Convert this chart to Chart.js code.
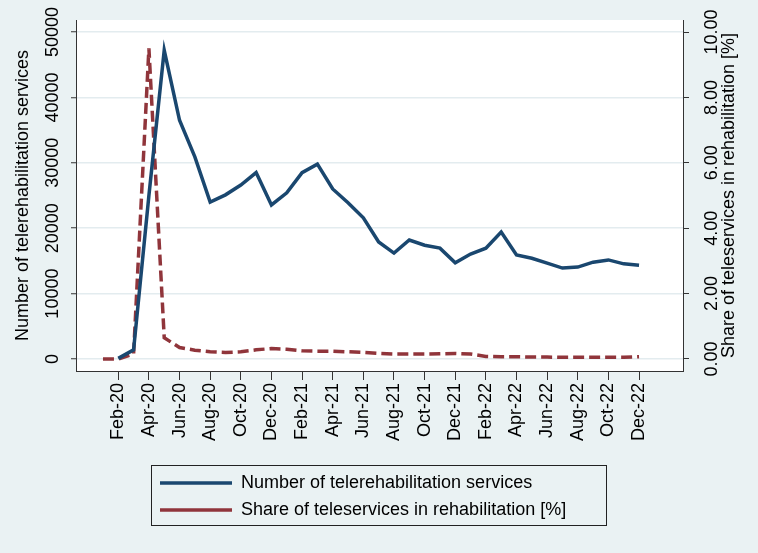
<!DOCTYPE html>
<html>
<head>
<meta charset="utf-8">
<script src="https://cdn.jsdelivr.net/npm/chart.js@4.4.1/dist/chart.umd.min.js"></script>
<style>
  html, body { margin: 0; padding: 0; background: #eaf2f3; }
  #wrap { width: 758px; height: 553px; }
</style>
</head>
<body>
<div id="wrap"><canvas id="teleChart" width="758" height="553"></canvas></div>
<script>
// months, Jan-20 .. Dec-22
const months = [
  'Jan-20', 'Feb-20', 'Mar-20', 'Apr-20', 'May-20', 'Jun-20', 'Jul-20', 'Aug-20', 'Sep-20', 'Oct-20', 'Nov-20', 'Dec-20',
  'Jan-21', 'Feb-21', 'Mar-21', 'Apr-21', 'May-21', 'Jun-21', 'Jul-21', 'Aug-21', 'Sep-21', 'Oct-21', 'Nov-21', 'Dec-21',
  'Jan-22', 'Feb-22', 'Mar-22', 'Apr-22', 'May-22', 'Jun-22', 'Jul-22', 'Aug-22', 'Sep-22', 'Oct-22', 'Nov-22', 'Dec-22'
];

// Number of telerehabilitation services
const services = [
  null, 100, 1400, 25000, 47200, 36500, 30900, 24000, 25100, 26600, 28500, 23550,
  25400, 28500, 29800, 26000, 23900, 21600, 17900, 16200, 18200, 17400, 16950, 14700,
  16050, 16950, 19400, 15900, 15400, 14650, 13900, 14050, 14800, 15150, 14550, 14350
];

// Share of teleservices in rehabilitation [%]
const share = [
  0, 0, 0.15, 9.5, 0.65, 0.35, 0.27, 0.22, 0.2, 0.22, 0.28, 0.32,
  0.3, 0.25, 0.24, 0.24, 0.22, 0.2, 0.17, 0.15, 0.15, 0.15, 0.16, 0.17,
  0.15, 0.08, 0.07, 0.07, 0.06, 0.06, 0.05, 0.05, 0.05, 0.05, 0.05, 0.07
];

// tick positions (month index) and axis ticks
const xTicks = [1, 3, 5, 7, 9, 11, 13, 15, 17, 19, 21, 23, 25, 27, 29, 31, 33, 35];
const leftTicks = [0, 10000, 20000, 30000, 40000, 50000];
const rightTicks = [0, 2, 4, 6, 8, 10];

const rightTitle = 'Share of teleservices in rehabilitation [%]';

const FONT = 'Liberation Sans, Arial, Helvetica, sans-serif';
const AXIS = '#333333';

const backdrop = {
  id: 'backdrop',
  beforeDraw(chart) {
    const { ctx, chartArea: a } = chart;
    ctx.save();
    ctx.fillStyle = '#eaf2f3';
    ctx.fillRect(0, 0, chart.width, chart.height);
    ctx.fillStyle = '#ffffff';
    ctx.fillRect(a.left, a.top, a.right - a.left, a.bottom - a.top);
    ctx.restore();
  },
  afterLayout(chart) {
    // narrow the legend to a centred box
    const lg = chart.legend;
    lg.left = 151;
    lg.right = 607;
    lg.width = 456;
  },
  afterDraw(chart) {
    const lg = chart.legend;
    const ctx = chart.ctx;
    ctx.save();
    ctx.strokeStyle = '#222';
    ctx.lineWidth = 1;
    ctx.strokeRect(151.5, lg.top + 0.5, 455, 60);

    // right axis title reads bottom-to-top like the left one
    const s = chart.scales.y1;
    ctx.translate(s.right - 29, (s.top + s.bottom) / 2);
    ctx.rotate(-Math.PI / 2);
    ctx.fillStyle = '#000';
    ctx.font = '18px ' + FONT;
    ctx.textAlign = 'center';
    ctx.textBaseline = 'middle';
    ctx.fillText(rightTitle, 0, 0);
    ctx.restore();
  }
};

const ctx = document.getElementById('teleChart').getContext('2d');
const teleChart = new Chart(ctx, {
  type: 'line',
  data: {
    datasets: [{
      label: 'Number of telerehabilitation services',
      data: services.map((v, i) => ({ x: i, y: v })),
      yAxisID: 'y',
      borderColor: '#1a476f',
      backgroundColor: '#1a476f',
      borderWidth: 3.5,
      pointRadius: 0,
      tension: 0,
      spanGaps: false
    }, {
      label: rightTitle,
      data: share.map((v, i) => ({ x: i, y: v })),
      yAxisID: 'y1',
      borderColor: '#90353b',
      backgroundColor: '#90353b',
      borderWidth: 3.5,
      borderDash: [11, 5],
      pointRadius: 0,
      tension: 0
    }]
  },
  options: {
    responsive: false,
    animation: false,
    layout: { padding: { top: 20, bottom: 24, left: 0, right: 0 } },
    plugins: {
      tooltip: { enabled: false },
      legend: {
        position: 'bottom',
        align: 'start',
        labels: {
          usePointStyle: true,
          pointStyle: 'line',
          pointStyleWidth: 72,
          padding: 9,
          color: '#000',
          font: { family: FONT, size: 18 }
        }
      }
    },
    scales: {
      x: {
        type: 'linear',
        min: -1.76,
        max: 37.87,
        afterBuildTicks: s => { s.ticks = xTicks.map(v => ({ value: v })); },
        afterFit: s => { s.height = 94; },
        ticks: {
          autoSkip: false,
          minRotation: 90,
          maxRotation: 90,
          padding: 3,
          color: '#000',
          font: { family: FONT, size: 18 },
          callback: v => months[v]
        },
        grid: { drawOnChartArea: false, tickLength: 9, tickColor: AXIS, tickWidth: 1 },
        border: { color: AXIS, width: 1 }
      },
      y: {
        position: 'left',
        min: -1835,
        max: 51835,
        afterBuildTicks: s => { s.ticks = leftTicks.map(v => ({ value: v })); },
        afterFit: s => { s.width = 76; },
        ticks: {
          minRotation: 90,
          maxRotation: 90,
          crossAlign: 'center',
          padding: -7,
          color: '#000',
          font: { family: FONT, size: 18 },
          callback: v => String(v)
        },
        grid: { color: '#e3ecef', lineWidth: 1.5, tickLength: 5, tickColor: AXIS, tickWidth: 1 },
        border: { color: AXIS, width: 1 },
        title: {
          display: true,
          text: 'Number of telerehabilitation services',
          color: '#000',
          font: { family: FONT, size: 18 },
          padding: { top: 12, bottom: 0 }
        }
      },
      y1: {
        position: 'right',
        min: -0.367,
        max: 10.367,
        afterBuildTicks: s => { s.ticks = rightTicks.map(v => ({ value: v })); },
        afterFit: s => { s.width = 75; },
        ticks: {
          minRotation: 90,
          maxRotation: 90,
          crossAlign: 'center',
          padding: 1,
          color: '#000',
          font: { family: FONT, size: 18 },
          callback: v => Number(v).toFixed(2)
        },
        grid: { drawOnChartArea: false, tickLength: 6, tickColor: AXIS, tickWidth: 1 },
        border: { color: AXIS, width: 1 }
      }
    }
  },
  plugins: [backdrop]
});
</script>
</body>
</html>
